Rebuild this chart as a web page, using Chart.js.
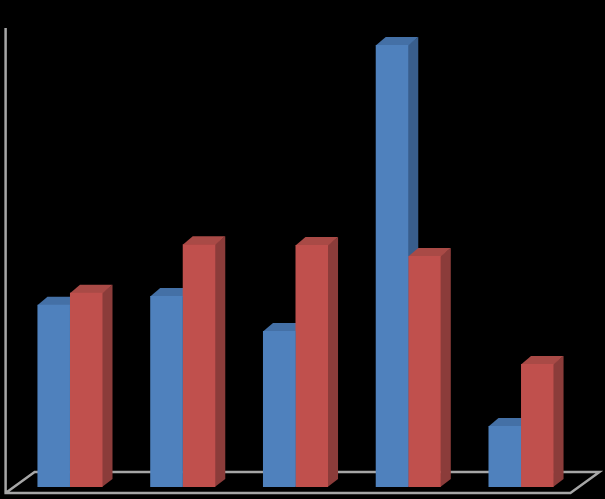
<!DOCTYPE html>
<html>
<head>
<meta charset="utf-8">
<script src="https://cdn.jsdelivr.net/npm/chart.js@4/dist/chart.umd.min.js"></script>
<style>
  html, body { margin: 0; padding: 0; background: #000; }
  #wrap { width: 605px; height: 499px; position: relative; }
</style>
</head>
<body>
<div id="wrap"><canvas id="chart"></canvas></div>
<script>
// Datos (sin etiquetas visibles)
const categories = ['1', '2', '3', '4', '5'];
const seriesBlue = [39.7, 41.6, 34.0, 96.3, 13.3];
const seriesRed = [42.3, 52.9, 52.7, 50.3, 26.8];
const yMax = 100;

// Colores de las caras: frente, lateral, superior
const faces = [
    { front: '#4F81BD', side: '#395E8C', top: '#4470A6' },
    { front: '#C0504D', side: '#8B3C3A', top: '#A94A46' }
];
const depthX = 10;
const depthY = 8;
const axisColor = '#A6A6A6';

// Dibuja el suelo, el eje y las caras laterales/superiores antes de los frentes
const bars3d = {
    id: 'bars3d',
    beforeDatasetsDraw(chart) {
        const ctx = chart.ctx;
        const area = chart.chartArea;
        const front = area.bottom + 6;
        const back = area.bottom - 15;
        const left = area.left - 8;
        const right = area.right - 7;
        const skew = 29;

        ctx.save();
        ctx.strokeStyle = axisColor;
        ctx.lineWidth = 2.5;
        ctx.beginPath();
        ctx.moveTo(left, area.top);
        ctx.lineTo(left, front);
        ctx.lineTo(right, front);
        ctx.lineTo(right + skew, back);
        ctx.lineTo(left + skew, back);
        ctx.lineTo(left, front);
        ctx.stroke();

        chart.data.datasets.forEach(function(ds, i) {
            const meta = chart.getDatasetMeta(i);
            const c = faces[i];
            meta.data.forEach(function(bar) {
                const p = bar.getProps(['x', 'y', 'base', 'width'], true);
                const l = p.x - p.width / 2;
                const r = p.x + p.width / 2;
                // lateral
                ctx.fillStyle = c.side;
                ctx.beginPath();
                ctx.moveTo(r - 0.5, p.y);
                ctx.lineTo(r + depthX, p.y - depthY);
                ctx.lineTo(r + depthX, p.base - depthY);
                ctx.lineTo(r - 0.5, p.base);
                ctx.closePath();
                ctx.fill();
                // superior
                ctx.fillStyle = c.top;
                ctx.beginPath();
                ctx.moveTo(l, p.y + 0.5);
                ctx.lineTo(r, p.y + 0.5);
                ctx.lineTo(r + depthX, p.y - depthY);
                ctx.lineTo(l + depthX, p.y - depthY);
                ctx.closePath();
                ctx.fill();
            });
        });
        ctx.restore();
    }
};

new Chart(document.getElementById('chart'), {
    type: 'bar',
    data: {
        labels: categories,
        datasets: [
            { data: seriesBlue, backgroundColor: faces[0].front, borderWidth: 0 },
            { data: seriesRed, backgroundColor: faces[1].front, borderWidth: 0 }
        ]
    },
    options: {
        responsive: true,
        maintainAspectRatio: false,
        animation: false,
        layout: { padding: { left: 13.6, right: 27.6, top: 28, bottom: 12 } },
        datasets: { bar: { categoryPercentage: 0.577, barPercentage: 1.0 } },
        scales: {
            x: { display: false },
            y: { display: false, min: 0, max: yMax }
        },
        plugins: {
            legend: { display: false },
            tooltip: { enabled: false }
        }
    },
    plugins: [bars3d]
});
</script>
</body>
</html>
